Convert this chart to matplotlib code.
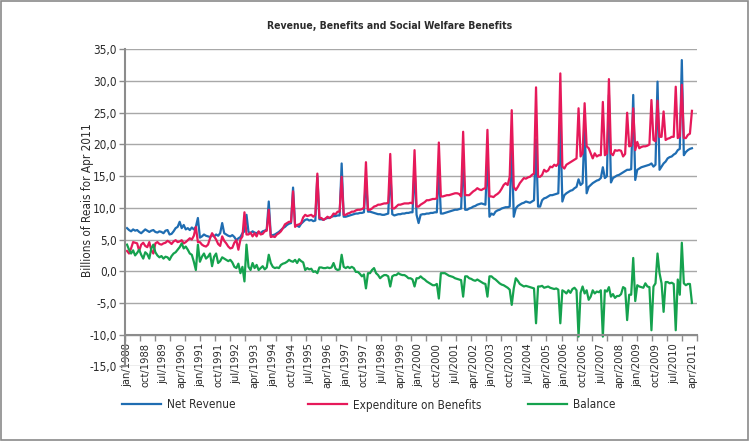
import matplotlib
matplotlib.use("Agg")
import matplotlib.pyplot as plt
import numpy as np
from matplotlib.patches import Rectangle

plt.rcParams['font.family'] = ['Liberation Sans Narrow', 'DejaVu Sans']
plt.rcParams['font.stretch'] = 'condensed'

# ---- data (billions of reais, Apr 2011 prices), monthly jan/1988 .. apr/2011 ----
net_revenue = [
    6.8, 6.5, 6.3, 6.6, 6.4, 6.5, 6.2, 6.0, 6.3, 6.6, 6.4, 6.2,      # 1988
    6.4, 6.5, 6.2, 6.1, 6.3, 6.2, 6.0, 6.4, 6.5, 5.8, 5.9, 6.3,      # 1989
    6.8, 7.0, 7.8, 6.8, 7.3, 6.6, 6.8, 6.5, 6.9, 6.6, 7.0, 8.4,      # 1990
    5.3, 5.5, 5.8, 5.6, 5.5, 5.4, 5.7, 5.5, 5.8, 5.6, 6.0, 7.6,      # 1991
    6.0, 5.8, 5.6, 5.5, 5.7, 5.4, 4.9, 5.2, 5.4, 6.0, 6.3, 8.9,      # 1992
    6.2, 6.0, 6.3, 6.1, 6.0, 6.2, 6.0, 6.3, 6.4, 6.6, 11.0, 5.6,     # 1993
    5.7, 5.8, 6.0, 6.2, 6.5, 6.8, 7.0, 7.3, 7.5, 7.6, 13.2, 7.3,     # 1994
    7.2, 7.0, 7.5, 7.8, 8.1, 8.2, 8.0, 8.1, 7.9, 8.0, 15.0, 8.2,     # 1995
    8.2, 8.1, 8.3, 8.4, 8.4, 8.6, 8.7, 8.7, 8.8, 8.8, 17.0, 8.6,     # 1996
    8.6, 8.7, 8.8, 8.9, 9.0, 9.1, 9.1, 9.2, 9.2, 9.3, 14.5, 9.4,     # 1997
    9.4, 9.3, 9.2, 9.1, 9.0, 9.0, 8.9, 8.9, 9.0, 9.1, 16.0, 9.0,     # 1998
    8.8, 8.9, 9.0, 9.0, 9.1, 9.1, 9.2, 9.2, 9.3, 9.3, 16.5, 8.9,     # 1999
    7.6, 8.9, 9.0, 9.0, 9.1, 9.1, 9.2, 9.2, 9.3, 9.3, 16.0, 9.1,     # 2000
    9.1, 9.2, 9.3, 9.4, 9.5, 9.6, 9.7, 9.7, 9.8, 9.9, 18.0, 9.7,     # 2001
    9.7, 9.9, 10.0, 10.2, 10.3, 10.5, 10.6, 10.7, 10.6, 10.5, 18.3, 8.6,   # 2002
    9.1, 8.9, 9.4, 9.6, 9.7, 9.9, 10.0, 10.1, 10.1, 10.2, 20.1, 8.6,       # 2003
    9.9, 10.3, 10.5, 10.7, 10.8, 11.0, 10.9, 10.8, 11.0, 11.2, 20.8, 10.2, # 2004
    10.2, 11.2, 11.5, 11.6, 11.8, 12.0, 12.0, 12.1, 12.2, 12.3, 23.0, 11.0,  # 2005
    12.0, 12.3, 12.5, 12.7, 12.8, 13.1, 13.3, 14.5, 13.6, 13.9, 23.0, 12.3,  # 2006
    13.3, 13.6, 13.9, 14.1, 14.3, 14.4, 14.7, 16.4, 14.7, 15.0, 27.8, 14.0,  # 2007
    14.7, 14.9, 15.1, 15.2, 15.4, 15.6, 15.8, 16.0, 16.0, 16.1, 27.8, 14.4,  # 2008
    16.0, 16.2, 16.4, 16.5, 16.6, 16.7, 16.8, 17.0, 16.5, 16.8, 29.9, 16.0,  # 2009
    16.5, 17.0, 17.3, 17.8, 18.0, 18.1, 18.4, 18.6, 19.1, 19.3, 33.3, 18.3,  # 2010
    18.8, 19.1, 19.3, 19.4,                                                  # 2011
]

expenditure = [
    3.2, 2.8, 3.6, 4.6, 4.5, 4.4, 3.2, 4.2, 4.5, 4.0, 3.8, 4.6,      # 1988
    3.3, 2.8, 4.4, 4.6, 4.3, 4.2, 4.4, 4.5, 4.8, 4.6, 4.3, 4.7,      # 1989
    4.9, 4.6, 4.7, 4.9, 4.4, 4.6, 4.9, 5.2, 5.0, 5.6, 7.0, 4.6,      # 1990
    4.6, 4.2, 4.0, 3.9, 4.2, 5.2, 6.0, 5.5, 5.0, 4.3, 4.0, 5.5,      # 1991
    4.8, 4.4, 3.9, 3.6, 3.7, 4.5, 4.9, 3.4, 5.0, 5.5, 9.3, 5.8,      # 1992
    5.8, 6.1, 5.5, 6.0, 5.5, 6.3, 5.8, 5.9, 6.3, 6.4, 9.7, 5.4,      # 1993
    5.5, 5.4, 5.8, 6.0, 6.3, 6.8, 7.4, 7.6, 7.8, 7.8, 12.6, 7.0,     # 1994
    7.3, 7.4, 7.6, 8.5, 8.9, 8.7, 8.8, 8.9, 8.6, 8.9, 15.4, 8.4,     # 1995
    8.4, 8.1, 8.3, 8.6, 8.4, 8.6, 9.1, 9.0, 9.4, 9.4, 14.9, 8.9,     # 1996
    8.9, 9.1, 9.2, 9.4, 9.4, 9.6, 9.7, 9.7, 9.8, 10.0, 17.2, 9.7,    # 1997
    9.7, 9.9, 10.2, 10.3, 10.5, 10.5, 10.6, 10.7, 10.7, 10.8, 18.5, 9.9,     # 1998
    9.9, 10.2, 10.5, 10.5, 10.6, 10.7, 10.7, 10.7, 10.8, 10.7, 19.1, 10.2,   # 1999
    10.2, 10.5, 10.7, 10.9, 11.2, 11.2, 11.3, 11.4, 11.4, 11.5, 20.3, 11.8,  # 2000
    11.8, 11.9, 12.0, 12.0, 12.1, 12.2, 12.3, 12.3, 12.2, 11.8, 22.0, 12.0,  # 2001
    12.0, 12.0, 12.3, 12.6, 12.8, 13.1, 12.9, 12.8, 13.0, 13.1, 22.3, 11.8,  # 2002
    11.8, 11.7, 12.0, 12.2, 12.5, 13.0, 13.6, 13.9, 13.6, 14.9, 25.4, 13.3,  # 2003
    12.8, 13.3, 13.9, 14.3, 14.7, 14.6, 14.8, 14.9, 15.2, 15.4, 29.0, 14.9,  # 2004
    14.9, 15.2, 16.0, 15.7, 15.9, 16.5, 16.4, 16.8, 16.6, 17.0, 31.2, 16.5,  # 2005
    16.2, 16.8, 17.0, 17.2, 17.4, 17.6, 17.8, 25.7, 18.1, 18.6, 26.5, 19.7,  # 2006
    19.4, 18.6, 17.8, 18.6, 18.1, 18.3, 18.3, 26.7, 18.3, 18.6, 30.3, 18.6,  # 2007
    18.3, 19.1, 19.0, 19.1, 19.0, 18.1, 18.5, 25.0, 19.7, 19.8, 25.7, 19.1,  # 2008
    20.4, 19.4, 19.6, 19.7, 19.7, 19.8, 20.0, 27.0, 20.7, 20.5, 26.9, 21.2,  # 2009
    21.2, 25.2, 20.7, 20.9, 21.0, 21.2, 21.2, 29.1, 21.0, 21.3, 29.4, 21.0,  # 2010
    21.0, 21.5, 21.7, 25.3,                                                  # 2011
]

balance = [
    4.2, 3.4, 2.8, 3.3, 2.5, 2.9, 3.4, 2.6, 2.0, 3.0, 2.7, 2.0,      # 1988
    3.6, 4.2, 3.0, 2.5, 2.2, 2.4, 2.0, 2.3, 2.2, 1.8, 2.4, 2.8,      # 1989
    3.0, 3.4, 3.8, 4.4, 3.6, 3.9, 3.4, 2.8, 2.6, 1.5, 0.2, 4.2,      # 1990
    1.5, 2.3, 2.8, 2.0, 2.3, 2.8, 0.8, 2.3, 2.8, 1.3, 1.6, 2.2,      # 1991
    2.0, 1.8, 1.6, 1.8, 1.4, 0.7, 0.5, 1.2, -0.3, 0.7, -1.6, 4.2,    # 1992
    0.7, 0.2, 1.3, 0.5, 1.0, 0.2, 0.5, 0.8, 0.3, 0.6, 2.6, 1.3,      # 1993
    0.7, 0.5, 0.6, 0.5, 1.0, 1.2, 1.3, 1.5, 1.8, 1.6, 1.5, 1.8,      # 1994
    1.3, 1.9, 1.6, 1.4, 0.2, 0.5, 0.3, 0.4, -0.1, 0.0, -0.3, 0.6,    # 1995
    0.6, 0.5, 0.5, 0.6, 0.5, 0.6, 1.3, 0.4, 0.2, 0.3, 2.6, 0.7,      # 1996
    0.5, 0.7, 0.5, 0.7, 0.5, -0.1, -0.1, -0.4, -0.8, -0.5, -2.7, -0.3,   # 1997
    -0.3, 0.2, 0.5, -0.3, -0.6, -1.1, -0.8, -0.6, -0.6, -0.8, -2.4, -0.8,  # 1998
    -0.6, -0.6, -0.3, -0.5, -0.6, -0.6, -0.8, -1.1, -1.1, -1.3, -2.4, -1.1,  # 1999
    -1.1, -0.8, -1.1, -1.3, -1.6, -1.8, -2.0, -2.2, -2.2, -2.0, -4.3, -0.3,  # 2000
    -0.3, -0.3, -0.5, -0.7, -0.8, -0.9, -1.1, -1.2, -1.3, -1.4, -4.0, -0.8,  # 2001
    -0.8, -1.1, -1.2, -1.4, -1.5, -1.3, -1.5, -1.7, -1.9, -2.0, -4.0, -0.8,  # 2002
    -0.8, -1.1, -1.3, -1.6, -1.9, -2.1, -2.2, -2.4, -2.6, -2.9, -5.3, -2.7,  # 2003
    -1.1, -1.5, -2.0, -2.2, -2.4, -2.3, -2.4, -2.5, -2.6, -2.7, -8.2, -2.4,  # 2004
    -2.4, -2.3, -2.6, -2.5, -2.4, -2.6, -2.7, -2.8, -2.7, -2.9, -8.2, -3.0,  # 2005
    -3.2, -3.5, -3.0, -3.4, -2.8, -2.6, -3.0, -10.3, -3.4, -2.4, -3.5, -3.0, # 2006
    -4.5, -4.0, -3.0, -3.5, -3.2, -3.3, -3.0, -10.3, -3.0, -3.2, -2.5, -4.0, # 2007
    -3.6, -4.2, -3.9, -3.9, -3.6, -2.5, -2.7, -7.7, -3.7, -3.7, 2.1, -4.7,   # 2008
    -2.2, -2.4, -2.5, -2.6, -1.9, -2.4, -2.5, -9.3, -2.4, -1.9, 2.8, -0.3,   # 2009
    -1.9, -6.4, -1.7, -1.7, -1.9, -1.8, -2.0, -9.3, -1.3, -3.7, 4.5, -1.9,   # 2010
    -2.2, -2.0, -2.0, -5.0,                                                  # 2011
]

tick_labels = ['jan/1988', 'oct/1988', 'jul/1989', 'apr/1990', 'jan/1991', 'oct/1991',
               'jul/1992', 'apr/1993', 'jan/1994', 'oct/1994', 'jul/1995', 'apr/1996',
               'jan/1997', 'oct/1997', 'jul/1998', 'apr/1999', 'jan/2000', 'oct/2000',
               'jul/2001', 'apr/2002', 'jan/2003', 'oct/2003', 'jul/2004', 'apr/2005',
               'jan/2006', 'oct/2006', 'jul/2007', 'apr/2008', 'jan/2009', 'oct/2009',
               'jul/2010', 'apr/2011']
series_names = ['Net Revenue', 'Expenditure on Benefits', 'Balance']
y_ticks = [-15, -10, -5, 0, 5, 10, 15, 20, 25, 30, 35]

# ---- figure ----
W, H = 755, 448
fig = plt.figure(figsize=(W / 100, H / 100), dpi=100)
fig.patch.set_facecolor('white')
fig.add_artist(Rectangle((1 / W, 1 - 440 / H), 747 / W, 439 / H, transform=fig.transFigure,
                         fill=False, edgecolor='#8a8a8a', lw=1.2))

ax = fig.add_axes([125 / W, (H - 366.4) / H, (697 - 125) / W, (366.4 - 49.3) / H])

BLUE, RED, GREEN = '#1f6db2', '#e6195a', '#15a24e'
GRID = '#a8a8a8'
TXT = '#2b2b2b'

# spines first (moving a spine resets its axis ticks)
for side in ('top', 'right'):
    ax.spines[side].set_visible(False)
ax.spines['bottom'].set_position(('data', -10))
for side in ('left', 'bottom'):
    ax.spines[side].set_color('#8c8c8c')
    ax.spines[side].set_linewidth(1.5)

x = np.arange(len(net_revenue))
ax.plot(x, net_revenue, color=BLUE, lw=1.6, label=series_names[0], solid_joinstyle='round')
ax.plot(x, expenditure, color=RED, lw=1.6, label=series_names[1], solid_joinstyle='round')
ax.plot(x, balance, color=GREEN, lw=1.6, label=series_names[2], solid_joinstyle='round')

ax.set_xlim(-1.0, 281.5)
ax.set_ylim(-15, 35)

ax.set_yticks(y_ticks)
ax.set_yticklabels([f"{v:.1f}".replace('.', ',') for v in y_ticks])
ax.yaxis.grid(True, color=GRID, lw=1.0)
ax.set_axisbelow(True)

ax.set_xticks(np.arange(0, len(net_revenue), 9))
ax.set_xticklabels(tick_labels)
ax.set_xticks(np.linspace(-1.0, 281.5, 39), minor=True)
ax.tick_params(axis='x', which='major', length=0, pad=6, labelrotation=90,
               labelsize=8, labelcolor=TXT)
ax.tick_params(axis='x', which='minor', length=4, width=1, color='#8c8c8c', direction='out')
ax.tick_params(axis='y', length=4, width=1, color='#8c8c8c', direction='out', pad=2,
               labelsize=8.5, labelcolor=TXT)

fig.text(88 / W, 1 - 200 / H, 'Billions of Reais for Apr 2011', rotation=90,
         ha='center', va='center', fontsize=8.5, color=TXT)
fig.text(390 / W, 1 - 26 / H, 'Revenue, Benefits and Social Welfare Benefits',
         ha='center', va='center', fontsize=7.5, fontweight='bold', color=TXT)

# legend, one entry per series, placed like the original
handles = ax.get_lines()
for h, xpos in zip(handles, (122, 308, 528)):
    fig.legend([h], [h.get_label()], loc='center left',
               bbox_to_anchor=(xpos / W, 1 - 405 / H), frameon=False,
               fontsize=8.5, handlelength=3.3, handletextpad=0.5,
               borderaxespad=0, borderpad=0, labelcolor=TXT)

fig.savefig('out.png', dpi=100)
